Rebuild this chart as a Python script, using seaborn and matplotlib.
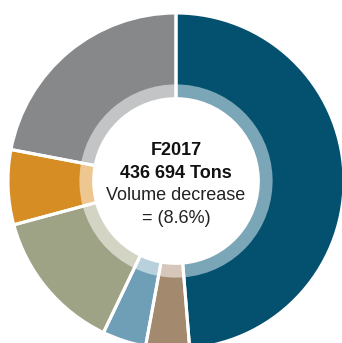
import matplotlib
matplotlib.use("Agg")
import matplotlib.pyplot as plt
import seaborn as sns

# Segment shares (clockwise from 12 o'clock)
segments = ["Seg A", "Seg B", "Seg C", "Seg D", "Seg E", "Seg F"]
shares = [48.7, 4.2, 4.2, 13.7, 7.2, 22.0]
outer_colors = ["#03506f", "#a38a6f", "#6f9fb6", "#9fa386", "#d68e24", "#87888a"]
inner_colors = ["#7ba6b7", "#d6c7ba", "#b8d1dc", "#d3d4c4", "#edc78f", "#c2c4c6"]
center_lines = ["F2017", "436 694 Tons", "Volume decrease", "= (8.6%)"]

sns.set_theme(style="white")
plt.rcParams["font.family"] = ["Liberation Sans", "DejaVu Sans"]

fig = plt.figure(figsize=(3.42, 3.43), dpi=100)
ax = fig.add_axes([0, 0, 1, 1])

pie_kw = dict(startangle=90, counterclock=False)
# outer ring (full band down to the hole)
ax.pie(shares, colors=sns.color_palette(outer_colors), radius=1.0,
       wedgeprops=dict(width=0.51, linewidth=0), **pie_kw)
# inner lighter band
ax.pie(shares, colors=sns.color_palette(inner_colors), radius=0.575,
       wedgeprops=dict(width=0.085, linewidth=0), **pie_kw)
# white separators through both bands
ax.pie(shares, colors=["none"] * len(shares), radius=1.0,
       wedgeprops=dict(width=0.51, edgecolor="white", linewidth=2.2, fill=False), **pie_kw)

ax.set_xlim(-176 / 168, 166 / 168)
ax.set_ylim(-162 / 168, 181 / 168)
ax.set_aspect("equal")
ax.axis("off")

ax.text(0, 0.18, center_lines[0], ha="center", va="center", fontsize=13, fontweight="bold", color="#111111")
ax.text(0, 0.045, center_lines[1], ha="center", va="center", fontsize=13, fontweight="bold", color="#111111")
ax.text(0, -0.085, center_lines[2], ha="center", va="center", fontsize=13, color="#222222")
ax.text(0, -0.225, center_lines[3], ha="center", va="center", fontsize=13, color="#222222")

fig.savefig("out.png", dpi=100, facecolor="white")
